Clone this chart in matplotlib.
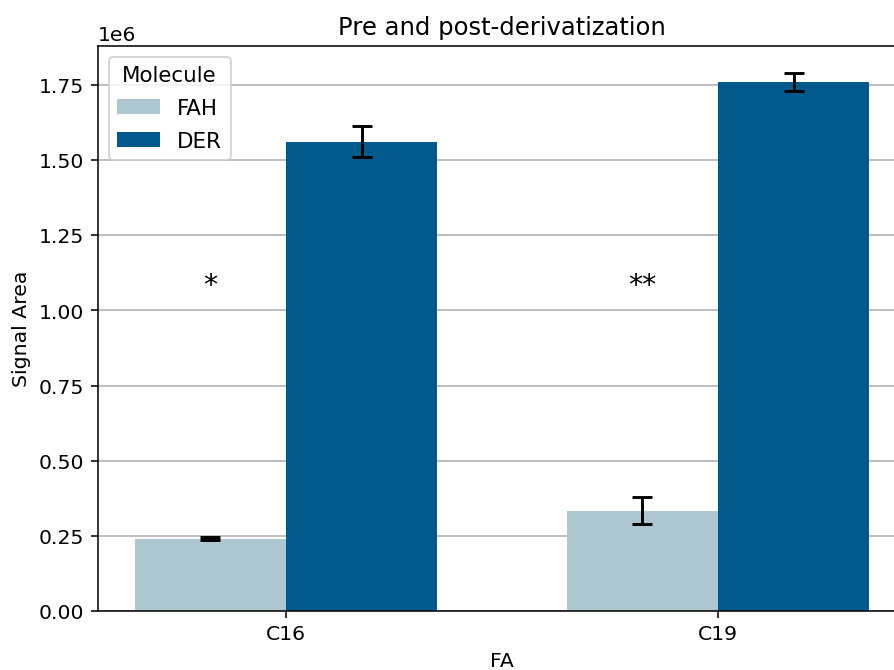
import matplotlib
matplotlib.use("Agg")
import matplotlib.pyplot as plt
import numpy as np

# data
fas = ["C16", "C19"]
fah_vals = [0.240e6, 0.334e6]
fah_err = [0.005e6, 0.046e6]
der_vals = [1.562e6, 1.760e6]
der_err = [0.052e6, 0.029e6]
signif = ["*", "**"]
signif_y = [1.035e6, 1.035e6]

fah_color = "#aec6cf"
der_color = "#04598c"

plt.rcParams["font.size"] = 10.5

fig = plt.figure(figsize=(6.4, 4.8), dpi=139.7)
# axes runs past the right and bottom of the canvas like the cropped original
ax = fig.add_axes([98 / 894, 59 / 671, 808 / 894, 565 / 671])

x = np.arange(len(fas))
w = 0.35
ax.bar(x - w / 2, fah_vals, w, yerr=fah_err, color=fah_color, label="FAH",
       capsize=5, error_kw=dict(elinewidth=1.5, capthick=1.5))
ax.bar(x + w / 2, der_vals, w, yerr=der_err, color=der_color, label="DER",
       capsize=5, error_kw=dict(elinewidth=1.5, capthick=1.5))

for i, s in enumerate(signif):
    ax.text(x[i] - w / 2, signif_y[i], s, ha="center", va="bottom", fontsize=14.5)

ax.set_xticks(x)
ax.set_xticklabels(fas)
ax.set_xlabel("FA")
ax.set_ylabel("Signal Area")
ax.set_title("Pre and post-derivatization", fontsize=12.5)
ax.yaxis.grid(True, color="#bdbdbd", linewidth=1)
ax.set_axisbelow(True)
ax.legend(title="Molecule", loc="upper left", fontsize=11, title_fontsize=11,
          labelspacing=0.6)

fig.savefig("out.png", dpi=139.7)
